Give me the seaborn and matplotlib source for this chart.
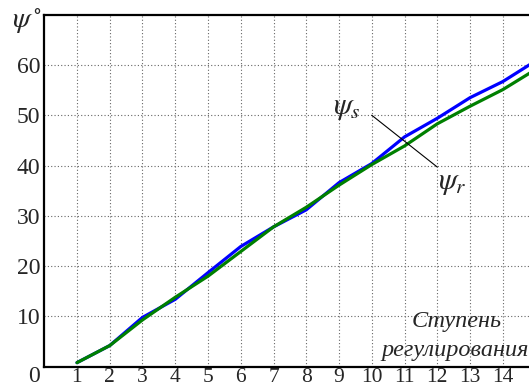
import numpy as np
import pandas as pd
import seaborn as sns
import matplotlib
matplotlib.use('Agg')
import matplotlib.pyplot as plt
import matplotlib.transforms as mtransforms

# Step numbers and angles
steps = [1, 2, 3, 4, 5, 6, 7, 8, 9, 10, 11, 12, 13, 14, 15]
psi_s = [0.8, 4.2, 9.8, 13.4, 18.7, 23.9, 27.8, 31.2, 36.6, 40.4, 45.7, 49.4, 53.5, 56.7, 60.8]
psi_r = [0.8, 4.2, 9.3, 13.8, 18.0, 22.9, 27.8, 31.7, 36.1, 40.2, 43.9, 48.3, 51.8, 55.1, 59.1]
x_ticks = list(range(1, 15))
y_ticks = [0, 10, 20, 30, 40, 50, 60]

sns.set_style('white')
plt.rcParams['font.family'] = ['Liberation Serif', 'DejaVu Serif']
plt.rcParams['mathtext.fontset'] = 'stix'

df = pd.DataFrame({
    'step': steps * 2,
    'angle': psi_s + psi_r,
    'curve': ['s'] * len(steps) + ['r'] * len(steps),
})

fig = plt.figure(figsize=(5.29, 3.87), dpi=100)
ax = fig.add_axes([0.0836, 0.0525, 0.9164, 0.9095])

sns.lineplot(data=df, x='step', y='angle', hue='curve',
             palette={'s': '#0000ff', 'r': '#008000'},
             linewidth=2.3, legend=False, ax=ax, zorder=3)

ax.set_xlim(0, 14.8)
ax.set_ylim(0, 70)
ax.set_xticks(x_ticks)
ax.set_yticks(y_ticks)
ax.set_xlabel('')
ax.set_ylabel('')
ax.tick_params(axis='y', length=0, labelsize=17, pad=3)
# x labels are cut at the bottom in the reference; keep them just inside
ax.tick_params(axis='x', length=0, labelsize=15.5, pad=1)

ax.grid(True, linestyle=(0, (1, 2)), color='#666666', linewidth=0.8)
for name in ['left', 'bottom', 'top']:
    ax.spines[name].set_linewidth(1.6)
    ax.spines[name].set_color('black')
ax.spines['right'].set_visible(False)

# shift the "0" label a little lower like in the reference
lbl0 = ax.get_yticklabels()[0]
lbl0.set_transform(lbl0.get_transform() + mtransforms.ScaledTranslation(0, -5 / 72, fig.dpi_scale_trans))

# axis caption
fig.text(0.022, 0.943, r'$\psi^\circ$', fontsize=21, ha='left', va='center')

# curve labels with one leader line
ax.plot([10.0, 12.0], [50.0, 39.7], color='black', linewidth=0.8, zorder=4)
ax.text(9.25, 51.5, r'$\psi_s$', fontsize=22, ha='center', va='center')
ax.text(12.45, 36.6, r'$\psi_r$', fontsize=22, ha='center', va='center')

ax.text(12.6, 9.0, 'Ступень', fontsize=17.5, style='italic', ha='center', va='center')
ax.text(14.8, 3.3, 'регулирования', fontsize=17.5, style='italic', ha='right', va='center')

plt.savefig('out.png', dpi=100)
plt.close()
